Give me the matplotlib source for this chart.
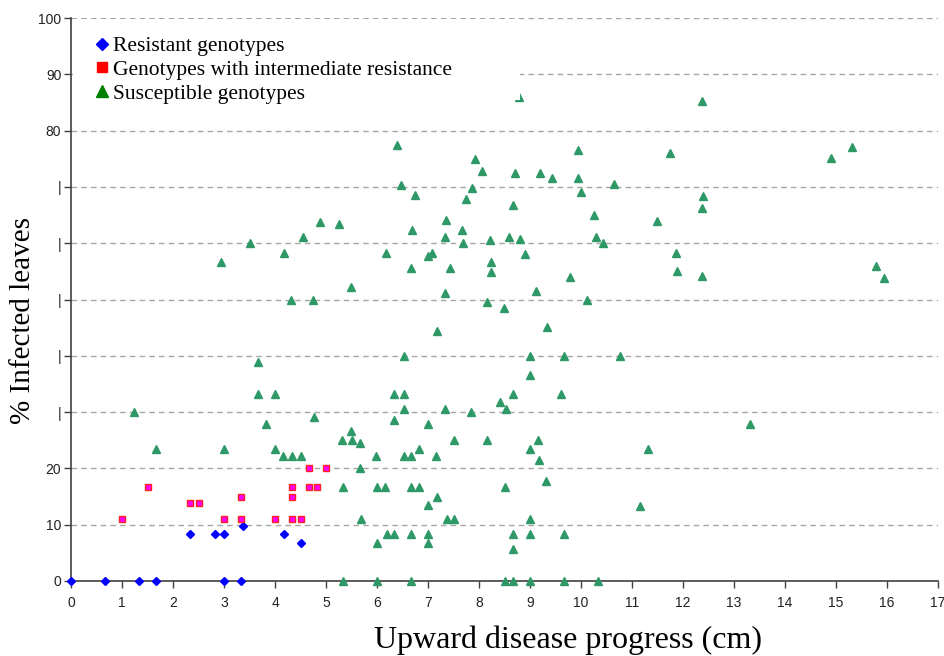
import matplotlib
matplotlib.use("Agg")
import matplotlib.pyplot as plt
from matplotlib.lines import Line2D
from matplotlib.patches import Rectangle

# ---- data ----
res_x = [0, 0.67, 1.33, 1.67, 3.0, 3.33, 2.33, 2.83, 3.0, 3.38, 4.17, 4.5]
res_y = [0, 0, 0, 0, 0, 0, 8.3, 8.3, 8.3, 9.8, 8.3, 6.7]

int_x = [1.0, 1.5, 2.33, 2.5, 3.0, 3.33, 3.33, 4.0, 4.33, 4.33, 4.33, 4.5, 4.67, 4.67, 4.83, 5.0]
int_y = [11.1, 16.7, 13.9, 13.9, 11.1, 15.0, 11.1, 11.1, 16.7, 15.0, 11.1, 11.1, 20.0, 16.7, 16.7, 20.0]

sus_x = [1.24, 1.67, 2.94, 3.0, 3.5, 3.67, 3.67, 3.82, 4.0, 4.0, 4.16, 4.18, 4.31, 4.33, 4.5,
         4.55, 4.75, 4.76, 4.88, 5.25, 5.33, 5.31, 5.49, 5.49, 5.51, 5.67, 5.67, 5.69, 5.33,
         5.98, 6.0, 6.0, 6.0, 6.16, 6.18, 6.2, 6.33, 6.33, 6.33, 6.39, 6.47, 6.53, 6.53, 6.53,
         6.53, 6.67, 6.67, 6.67, 6.67, 6.67, 6.69, 6.75, 6.82, 6.82, 7.0, 7.0, 7.0, 7.0, 7.0,
         7.08, 7.16, 7.18, 7.18, 7.33, 7.37, 7.33, 7.33, 7.35, 7.43, 7.51, 7.51, 7.67, 7.69,
         7.75, 7.84, 7.86, 7.92, 8.06, 8.16, 8.16, 8.22, 8.24, 8.24, 8.41, 8.49, 8.51, 8.5,
         8.53, 8.59, 8.67, 8.67, 8.67, 8.67, 8.67, 8.71, 8.78, 8.8, 8.9, 9.0, 9.0, 9.0, 9.0,
         9.0, 9.0, 9.12, 9.16, 9.18, 9.2, 9.31, 9.33, 9.43, 9.61, 9.67, 9.67, 9.67, 9.78, 9.94,
         9.94, 10.0, 10.12, 10.33, 10.25, 10.29, 10.43, 10.65, 10.76, 11.16, 11.31, 11.49,
         11.75, 11.86, 11.88, 12.37, 12.37, 12.39, 12.37, 13.31, 14.9, 15.31, 15.78, 15.94]
sus_y = [30, 23.4, 56.7, 23.4, 60, 38.9, 33.3, 27.9, 33.3, 23.4, 22.2, 58.3, 50, 22.2, 22.2,
         61.1, 50, 29.1, 63.8, 63.4, 16.7, 25, 26.6, 52.2, 25, 24.5, 20, 11, 0,
         22.2, 6.7, 16.7, 0, 16.7, 58.3, 8.3, 8.3, 28.6, 33.3, 77.5, 70.3, 30.6, 40, 33.3,
         22.2, 8.3, 22.2, 16.7, 55.6, 0, 62.3, 68.6, 23.4, 16.7, 27.9, 13.5, 8.3, 6.7, 57.7,
         58.3, 22.2, 14.9, 44.4, 30.5, 11, 51.2, 61.1, 64.1, 55.6, 25, 11, 62.3, 60,
         67.9, 30, 69.8, 75, 72.8, 25, 49.6, 60.6, 54.9, 56.7, 31.8, 48.5, 16.7, 0,
         30.6, 61.1, 33.3, 66.8, 5.6, 8.3, 0, 72.5, 86, 60.7, 58.1, 40, 36.6, 23.4, 11,
         8.3, 0, 51.5, 25, 21.5, 72.5, 17.8, 45.1, 71.6, 33.3, 40, 8.3, 0, 54, 76.6,
         71.6, 69.1, 50, 0, 65, 61.1, 60, 70.5, 40, 13.3, 23.4, 63.9,
         76, 58.3, 55.1, 85.3, 66.3, 68.4, 54.2, 27.9, 75.1, 77.1, 55.9, 53.8]

labels = ["Resistant genotypes", "Genotypes with intermediate resistance", "Susceptible genotypes"]
x_ticks = list(range(0, 18))
y_ticks = list(range(0, 101, 10))
y_ticklabels = ["0", "10", "20", "|", "|", "|", "|", "|", "80", "90", "100"]

# ---- figure ----
fig = plt.figure(figsize=(9.44, 6.56), dpi=100)
ax = fig.add_axes([71/944, 1 - 581/656, 867/944, 563/656])

tick_font = ["Liberation Sans Narrow", "Liberation Sans", "DejaVu Sans"]
serif = ["Liberation Serif", "DejaVu Serif"]

ax.set_xlim(0, 17)
ax.set_ylim(0, 100)

for g in y_ticks[1:]:
    ax.axhline(g, color="#a6a6a6", lw=1.0, ls=(0, (4, 3)), zorder=1)

ax.plot(res_x, res_y, ls="none", marker="D", ms=4.3, mfc="#0000ff", mec="#0000ff",
        zorder=3, clip_on=False)
ax.plot(int_x, int_y, ls="none", marker="s", ms=4.6, mfc="#ff00ff", mec="#ff2020", mew=1.0,
        zorder=3, clip_on=False)
ax.plot(sus_x, sus_y, ls="none", marker="^", ms=5.2, mfc="#2e9966", mec="#2e9966",
        zorder=3, clip_on=False)

# white legend background covering grid and markers
ax.add_patch(Rectangle((0.002, (581-100)/563), (519-72)/867, (100-19)/563,
                       transform=ax.transAxes, facecolor="white", edgecolor="none", zorder=4))

handles = [
    Line2D([], [], ls="none", marker="D", ms=6.5, mfc="#0000ff", mec="#0000ff"),
    Line2D([], [], ls="none", marker="s", ms=7.5, mfc="#ff0000", mec="#ff0000"),
    Line2D([], [], ls="none", marker="^", ms=8.5, mfc="#008000", mec="#008000"),
]
leg = ax.legend(handles, labels, loc="upper left",
                bbox_to_anchor=((96-71)/867, (581-36)/563),
                frameon=False, prop={"family": serif, "size": 15.5},
                handlelength=0.6, handletextpad=0.2, labelspacing=0.18,
                borderpad=0, borderaxespad=0)
leg.set_zorder(5)

for s in ["top", "right"]:
    ax.spines[s].set_visible(False)
for s in ["left", "bottom"]:
    ax.spines[s].set_color("#404040")
    ax.spines[s].set_linewidth(1.2)

ax.set_xticks(x_ticks)
ax.set_xticklabels([str(t) for t in x_ticks])
ax.set_yticks(y_ticks)
ax.set_yticklabels(y_ticklabels)
ax.tick_params(axis="both", direction="out", length=5, width=1, color="#404040",
               labelsize=10, labelcolor="#222222")
ax.tick_params(axis="y", pad=2)
ax.tick_params(axis="x", pad=6)
for lab in ax.get_xticklabels() + ax.get_yticklabels():
    lab.set_family(tick_font)

ax.set_xlabel("Upward disease progress (cm)", family=serif, fontsize=23)
ax.xaxis.set_label_coords((568-71)/867, (581-640)/563)
ax.xaxis.label.set_va("center")
ax.set_ylabel("% Infected leaves", family=serif, fontsize=21)
ax.yaxis.set_label_coords((23-71)/867, (581-320)/563)
ax.yaxis.label.set_va("center")

fig.savefig("out.png", dpi=100)
